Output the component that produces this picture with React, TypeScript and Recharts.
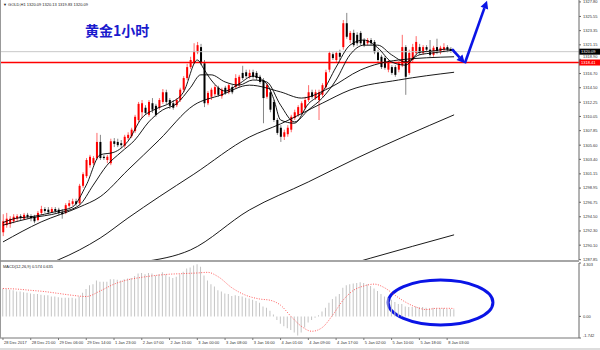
import React from 'react';
import { ComposedChart, Bar, Line, XAxis, YAxis, ReferenceLine, ReferenceArea } from 'recharts';

// hourly gold candles, index 0 = 28 Dec 2017 13:00
const opens = [
  1292.1, 1293.2, 1293.4, 1293.8, 1294.2, 1294.6, 1294.2, 1294.8, 1294.6, 1294.5,
  1294.0, 1295.1, 1295.7, 1295.6, 1295.2, 1295.7, 1295.6, 1295.2, 1295.1, 1296.2,
  1296.5, 1296.9, 1296.6, 1299.3, 1300.8, 1302.5, 1302.8, 1303.6, 1306.1, 1303.8,
  1303.3, 1302.8, 1306.2, 1306.1, 1305.9, 1305.5, 1306.7, 1307.0, 1307.8, 1309.5,
  1310.7, 1311.4, 1310.3, 1312.1, 1311.7, 1311.4, 1312.3, 1313.8, 1312.6, 1312.1,
  1311.8, 1312.6, 1314.2, 1316.0, 1317.7, 1318.5, 1320.0, 1320.8, 1318.3, 1312.1,
  1313.1, 1313.5, 1314.5, 1313.2, 1314.5, 1313.8, 1314.6, 1314.6, 1314.9, 1316.8,
  1316.9, 1316.2, 1316.9, 1316.8, 1316.2, 1315.7, 1313.1, 1313.8, 1312.3, 1309.5,
  1308.3, 1306.9, 1307.3, 1308.0, 1309.8, 1310.3, 1310.6, 1311.4, 1312.6, 1313.8,
  1312.9, 1312.6, 1313.4, 1314.6, 1317.3, 1319.7, 1318.8, 1319.9, 1320.8, 1324.5,
  1321.9, 1323.0, 1322.7, 1323.0, 1321.9, 1321.4, 1321.9, 1321.6, 1320.0, 1319.3,
  1319.1, 1317.3, 1317.7, 1317.7, 1317.3, 1318.0, 1320.8, 1316.8, 1318.8, 1319.9,
  1320.8, 1319.9, 1320.8, 1320.4, 1319.6, 1320.8, 1320.0, 1320.4, 1320.8, 1320.5,
  1320.09,
];
const closes = [
  1293.8, 1294.2, 1294.2, 1294.5, 1294.6, 1294.3, 1294.8, 1294.5, 1294.3, 1293.8,
  1295.1, 1295.7, 1295.4, 1295.2, 1295.7, 1295.4, 1295.1, 1294.9, 1296.3, 1296.6,
  1296.9, 1296.5, 1299.3, 1301.1, 1303.3, 1303.8, 1303.6, 1306.1, 1303.6, 1303.6,
  1303.8, 1306.2, 1305.8, 1305.6, 1305.6, 1306.9, 1307.2, 1308.0, 1310.0, 1312.0,
  1312.1, 1310.6, 1312.3, 1311.1, 1310.3, 1312.6, 1313.8, 1312.3, 1311.7, 1311.4,
  1312.6, 1314.2, 1316.0, 1317.7, 1318.8, 1320.2, 1321.1, 1318.3, 1312.1, 1313.7,
  1314.2, 1314.6, 1313.4, 1314.2, 1313.7, 1314.9, 1313.8, 1316.0, 1316.2, 1316.0,
  1316.3, 1316.8, 1316.2, 1316.0, 1315.4, 1312.9, 1314.9, 1311.1, 1309.5, 1307.5,
  1306.9, 1307.6, 1308.3, 1310.0, 1310.7, 1311.5, 1312.1, 1312.6, 1313.8, 1313.1,
  1313.8, 1313.8, 1314.9, 1316.9, 1319.9, 1319.1, 1319.9, 1319.3, 1324.5, 1322.4,
  1323.0, 1321.1, 1321.4, 1321.4, 1321.1, 1321.9, 1321.4, 1320.0, 1318.8, 1317.7,
  1317.6, 1318.5, 1316.8, 1316.5, 1318.3, 1320.8, 1316.2, 1319.9, 1320.8, 1321.6,
  1319.9, 1320.8, 1320.4, 1319.6, 1320.7, 1320.0, 1320.7, 1320.8, 1320.4, 1320.2,
  1320.09,
];
const highs = [
  1294.9, 1295.1, 1294.6, 1294.9, 1294.9, 1294.9, 1295.1, 1295.1, 1294.9, 1294.8,
  1295.4, 1296.2, 1296.0, 1296.0, 1296.0, 1296.0, 1295.9, 1295.7, 1296.6, 1297.1,
  1297.3, 1297.3, 1299.6, 1301.4, 1303.6, 1304.1, 1303.9, 1307.5, 1307.2, 1304.1,
  1304.1, 1306.6, 1306.7, 1306.6, 1306.4, 1307.2, 1307.6, 1308.3, 1310.3, 1312.3,
  1312.6, 1311.8, 1312.6, 1312.9, 1312.0, 1312.9, 1314.3, 1314.2, 1312.9, 1312.6,
  1312.9, 1314.5, 1316.3, 1318.2, 1319.3, 1321.4, 1321.6, 1321.3, 1318.8, 1314.0,
  1314.5, 1314.9, 1314.8, 1314.5, 1314.8, 1315.2, 1314.9, 1316.6, 1316.5, 1317.9,
  1317.3, 1317.3, 1317.3, 1317.1, 1316.5, 1316.0, 1315.2, 1314.2, 1312.6, 1309.8,
  1308.7, 1308.0, 1308.7, 1310.3, 1311.1, 1311.8, 1312.4, 1313.1, 1314.9, 1314.2,
  1314.2, 1314.2, 1315.2, 1317.3, 1320.2, 1320.0, 1320.2, 1320.4, 1325.0, 1326.1,
  1323.3, 1323.5, 1323.1, 1323.3, 1322.2, 1322.2, 1322.2, 1321.9, 1320.4, 1319.6,
  1319.4, 1318.8, 1318.0, 1318.0, 1318.6, 1322.7, 1321.1, 1320.4, 1321.3, 1322.5,
  1321.3, 1321.1, 1321.1, 1321.9, 1321.0, 1322.1, 1321.0, 1321.4, 1321.1, 1320.8,
  1320.13,
];
const lows = [
  1291.5, 1292.8, 1292.8, 1293.5, 1293.8, 1294.0, 1294.0, 1294.2, 1293.8, 1293.5,
  1293.8, 1294.8, 1295.1, 1294.9, 1295.1, 1295.1, 1294.8, 1294.2, 1294.9, 1295.9,
  1296.2, 1296.2, 1296.3, 1299.0, 1300.5, 1302.1, 1302.5, 1303.3, 1303.3, 1303.3,
  1302.8, 1302.5, 1305.3, 1305.3, 1305.2, 1305.2, 1306.4, 1306.7, 1307.5, 1309.2,
  1309.8, 1310.3, 1310.0, 1310.6, 1310.0, 1311.1, 1312.0, 1312.0, 1311.2, 1311.1,
  1311.5, 1312.3, 1313.8, 1315.7, 1317.4, 1318.2, 1319.7, 1318.0, 1311.5, 1311.8,
  1312.6, 1313.2, 1313.1, 1312.8, 1313.4, 1313.5, 1313.5, 1314.3, 1314.6, 1315.7,
  1316.0, 1315.9, 1315.9, 1315.7, 1315.1, 1309.0, 1312.8, 1310.7, 1309.2, 1307.2,
  1306.1, 1306.4, 1306.9, 1307.6, 1309.5, 1310.0, 1310.3, 1311.1, 1312.3, 1312.8,
  1312.6, 1309.5, 1313.1, 1314.3, 1316.9, 1318.8, 1318.5, 1318.8, 1320.4, 1322.1,
  1321.4, 1320.8, 1321.0, 1321.1, 1320.8, 1321.1, 1321.1, 1319.7, 1318.5, 1317.4,
  1317.3, 1316.9, 1316.5, 1316.2, 1316.9, 1317.7, 1313.4, 1316.5, 1318.5, 1319.6,
  1319.6, 1319.6, 1320.0, 1319.3, 1319.3, 1319.7, 1319.7, 1320.0, 1320.0, 1319.9,
  1319.83,
];

// moving averages: [bar index, price]
const maFast = [
  [0, 1293.6], [4, 1294.3], [8, 1294.5], [12, 1294.9], [16, 1295.4], [20, 1296.0], [24, 1299.4],
  [28, 1304.1], [32, 1304.5], [36, 1306.2], [40, 1309.8], [44, 1311.2], [48, 1312.1], [52, 1313.8],
  [56, 1318.8], [58, 1317.3], [60, 1315.7], [64, 1314.0], [68, 1315.1], [72, 1316.3], [76, 1315.1],
  [78, 1312.8], [80, 1309.5], [84, 1309.0], [88, 1312.0], [92, 1313.8], [96, 1317.7], [100, 1321.1],
  [104, 1321.9], [108, 1320.7], [112, 1318.5], [116, 1318.0], [120, 1320.0], [124, 1320.2],
  [128, 1320.5], [130, 1320.35],
];
const maMid = [
  [0, 1293.2], [8, 1294.3], [16, 1295.1], [22, 1296.3], [26, 1299.4], [30, 1302.5], [34, 1304.5],
  [38, 1306.4], [42, 1309.2], [46, 1311.05], [50, 1312.0], [54, 1314.5], [57, 1316.5], [60, 1316.5],
  [64, 1315.4], [68, 1314.9], [72, 1315.7], [76, 1315.4], [80, 1311.8], [84, 1309.2], [88, 1311.05],
  [92, 1312.9], [96, 1315.7], [100, 1319.6], [104, 1321.1], [108, 1321.1], [112, 1319.6],
  [116, 1318.5], [120, 1319.6], [124, 1319.9], [130, 1320.35],
];
const maSlow = [
  [0, 1290.6], [11, 1293.7], [22, 1296.0], [28, 1297.6], [36, 1301.75], [45, 1306.4], [55, 1311.8],
  [63, 1313.4], [71, 1314.9], [80, 1313.85], [86, 1312.9], [94, 1314.45], [103, 1317.25],
  [114, 1318.8], [130, 1319.3],
];
const ma60 = [
  [10, 1286.55], [22, 1289.35], [28, 1291.2], [36, 1294.3], [45, 1297.6], [55, 1301.1], [71, 1306.85],
  [80, 1308.9], [92, 1312.1], [100, 1314.15], [114, 1315.7], [130, 1316.9],
];
const ma120 = [[40, 1287.5], [54, 1289.35], [71, 1295.55], [88, 1299.9], [102, 1303.6], [130, 1310.3]];
const ma240 = [[96, 1286.55], [106, 1288.1], [130, 1291.7]];

const macdHist = [
  2.25, 2.2, 2.15, 2.1, 2.0, 2.0, 1.95, 1.9, 1.85, 1.8,
  1.8, 1.75, 1.7, 1.7, 1.6, 1.6, 1.55, 1.5, 1.5, 1.5,
  1.5, 1.45, 1.6, 1.9, 2.2, 2.5, 2.6, 2.9, 2.8, 2.8,
  2.8, 3.0, 3.0, 2.95, 2.9, 3.0, 3.05, 3.1, 3.25, 3.45,
  3.5, 3.4, 3.5, 3.45, 3.3, 3.4, 3.55, 3.4, 3.2, 3.1,
  3.2, 3.4, 3.6, 3.85, 3.95, 4.1, 4.2, 4.0, 3.3, 2.9,
  2.6, 2.4, 2.1, 2.0, 1.85, 1.8, 1.65, 1.7, 1.65, 1.6,
  1.5, 1.45, 1.35, 1.25, 1.1, 0.8, 0.7, 0.45, 0.15, -0.3,
  -0.6, -0.8, -0.95, -1.1, -1.3, -1.55, -1.3, -0.9, -0.5, -0.3,
  -0.1, 0.1, 0.4, 0.7, 1.1, 1.4, 1.6, 1.8, 2.3, 2.5,
  2.6, 2.65, 2.7, 2.75, 2.7, 2.6, 2.45, 2.25, 2.05, 1.8,
  1.6, 1.5, 1.35, 1.15, 1.0, 1.0, 0.8, 0.75, 0.75, 0.8,
  0.75, 0.75, 0.7, 0.65, 0.7, 0.65, 0.65, 0.65, 0.6, 0.6,
  0.574,
];
const macdSignal = [
  [0, 2.25], [4, 2.2], [8, 2.1], [12, 2.0], [16, 1.85], [20, 1.7], [24, 1.6], [28, 2.05], [32, 2.6],
  [36, 2.95], [40, 3.15], [44, 3.3], [48, 3.4], [52, 3.45], [56, 3.5], [59, 3.55], [62, 3.2],
  [66, 2.3], [70, 1.7], [74, 1.4], [77, 1.3], [80, 0.9], [83, 0.0], [86, -0.8], [89, -1.2],
  [92, -0.9], [95, 0.1], [98, 1.3], [101, 2.1], [104, 2.45], [107, 2.6], [110, 2.3], [113, 1.7],
  [116, 1.15], [119, 0.75], [122, 0.55], [125, 0.65], [128, 0.65], [130, 0.635],
];

const timeLabels = [
  '28 Dec 2017', '28 Dec 21:00', '29 Dec 06:00', '29 Dec 14:00', '1 Jan 23:00', '2 Jan 07:00',
  '2 Jan 15:00', '3 Jan 00:00', '3 Jan 08:00', '3 Jan 16:00', '4 Jan 01:00', '4 Jan 09:00',
  '4 Jan 17:00', '5 Jan 02:00', '5 Jan 10:00', '5 Jan 18:00', '8 Jan 03:00',
];
const priceTicks = [
  1327.8, 1325.55, 1323.35, 1321.15, 1318.9, 1316.7, 1314.5, 1312.25, 1310.05, 1307.85,
  1305.6, 1303.4, 1301.15, 1298.95, 1296.75, 1294.5, 1292.3, 1290.1, 1287.85,
];
const macdTicks = [4.303, 0, -1.742];

const lastPrice = 1320.09;
const resistance = 1318.41;
const arrowDown = [[129.4, 1320.5], [133.1, 1318.3]];
const arrowUp = [[133.1, 1318.3], [139.5, 1328.0]];
const circleArea = { x1: 111, x2: 141.2, y1: -0.69, y2: 2.93 };

const X_DOMAIN = [-0.86, 166];
const FONT = "'Liberation Sans', Arial, sans-serif";
const BLUE = '#0a14e6';

const candles = opens.map((o, i) => ({ i, o, c: closes[i], h: highs[i], l: lows[i], range: [lows[i], highs[i]] }));
const macdRows = macdHist.map((h, i) => ({ i, h }));
const toRows = (pairs: number[][]) => pairs.map(([i, v]) => ({ i, v }));

const Candle = (props: any) => {
  const { x, y, width, height, payload } = props;
  if (!payload) return null;
  const top = Math.min(y, y + height);
  const hh = Math.abs(height);
  const k = hh / (payload.h - payload.l || 1);
  const yO = top + (payload.h - payload.o) * k;
  const yC = top + (payload.h - payload.c) * k;
  const up = payload.c >= payload.o;
  const cx = x + width / 2;
  return (
    <g>
      <line x1={cx} x2={cx} y1={top} y2={top + hh} stroke={up ? '#ff5a5a' : '#7a7a7a'} strokeWidth={0.9} />
      <rect x={x} y={Math.min(yO, yC)} width={width} height={Math.max(1, Math.abs(yO - yC))} fill={up ? '#ff0000' : '#000'} />
    </g>
  );
};

const priceTag = (text: string, bg: string) => (props: any) => {
  const vb = props.viewBox;
  const x = vb.x + vb.width;
  return (
    <g>
      <rect x={x} y={vb.y - 3} width={21} height={6} fill={bg} />
      <text x={x + 2} y={vb.y + 1.5} fontSize={4} fill="#fff" fontFamily={FONT}>{text}</text>
    </g>
  );
};

// price scale labels; the one right above the red tag is nudged up so both stay readable
const PriceTick = (props: any) => {
  const { x, y, payload } = props;
  const v = payload.value;
  const dy = Math.abs(v - resistance) < 1 ? -1 : 1.4;
  return (
    <text x={x} y={y + dy} fontSize={4} fill="#333" fontFamily={FONT}>{v.toFixed(2)}</text>
  );
};

const Arrow = (props: any) => {
  const { x1, y1, x2, y2 } = props;
  const a = Math.atan2(y2 - y1, x2 - x1);
  const L = 8, W = 4;
  const bx = x2 - L * Math.cos(a), by = y2 - L * Math.sin(a);
  const p1 = `${bx + W * Math.sin(a)},${by - W * Math.cos(a)}`;
  const p2 = `${bx - W * Math.sin(a)},${by + W * Math.cos(a)}`;
  return (
    <g>
      <line x1={x1} y1={y1} x2={bx} y2={by} stroke={BLUE} strokeWidth={2.6} />
      <polygon points={`${x2},${y2} ${p1} ${p2}`} fill={BLUE} />
    </g>
  );
};

const Ellipse = (props: any) => {
  const { x, y, width, height } = props;
  return <ellipse cx={x + width / 2} cy={y + height / 2} rx={Math.abs(width) / 2} ry={Math.abs(height) / 2} fill="none" stroke={BLUE} strokeWidth={3} />;
};

const TimeTick = (props: any) => {
  const { x, y, payload } = props;
  return (
    <text x={x + 1} y={y + 2} fontSize={4} fill="#333" fontFamily={FONT}>
      {timeLabels[Math.round(payload.value / 8)]}
    </text>
  );
};

// MACD scale labels: the top one sits just under the panel edge, the bottom one just above
const MacdTick = (props: any) => {
  const { x, y, payload } = props;
  const v = payload.value;
  const dy = v === macdTicks[0] ? 3 : v === macdTicks[2] ? -1.5 : 1.4;
  return (
    <text x={x} y={y + dy} fontSize={4} fill="#333" fontFamily={FONT}>
      {v === 0 ? '0.00' : String(v)}
    </text>
  );
};

const maLine = (pairs: number[][], key: string) => (
  <Line key={key} data={toRows(pairs)} dataKey="v" type="monotone" stroke="#000" strokeWidth={0.9} dot={false} activeDot={false} isAnimationActive={false} />
);

export default function App() {
  return (
    <div style={{ position: 'relative', width: 600, height: 350, background: '#fff', overflow: 'hidden' }}>
      <style>{'body{margin:0}'}</style>
      <div style={{ position: 'absolute', left: 0, top: 0 }}>
        <ComposedChart width={600} height={264} data={candles} margin={{ top: 0, right: 0, bottom: 4, left: 0 }}>
          <XAxis type="number" dataKey="i" domain={X_DOMAIN} hide allowDataOverflow />
          <YAxis
            orientation="right" width={21} domain={[1287.8, 1328.1]} ticks={priceTicks} interval={0}
            allowDataOverflow tickSize={2} tick={<PriceTick />} axisLine={{ stroke: '#666' }} tickLine={{ stroke: '#666' }}
          />
          <ReferenceLine y={lastPrice} stroke="#c8c8c8" label={priceTag(lastPrice.toFixed(2), '#000')} />
          <ReferenceLine y={resistance} stroke="#ff0000" strokeWidth={1.4} label={priceTag(resistance.toFixed(2), '#ff0000')} />
          {maLine(ma240, 'ma240')}
          {maLine(ma120, 'ma120')}
          {maLine(ma60, 'ma60')}
          {maLine(maSlow, 'maSlow')}
          {maLine(maMid, 'maMid')}
          {maLine(maFast, 'maFast')}
          <Bar dataKey="range" barSize={2} shape={Candle} isAnimationActive={false} />
          <ReferenceLine segment={arrowDown.map(([x, y]) => ({ x, y }))} shape={Arrow} ifOverflow="visible" />
          <ReferenceLine segment={arrowUp.map(([x, y]) => ({ x, y }))} shape={Arrow} ifOverflow="visible" />
        </ComposedChart>
      </div>
      <div style={{ position: 'absolute', left: 0, top: 261 }}>
        <ComposedChart width={600} height={89} data={macdRows} margin={{ top: 2, right: 0, bottom: 0, left: 0 }}>
          <XAxis
            type="number" dataKey="i" domain={X_DOMAIN} allowDataOverflow ticks={timeLabels.map((_, k) => k * 8)}
            interval={0} height={12} tickSize={2} tick={<TimeTick />} axisLine={{ stroke: '#777' }} tickLine={{ stroke: '#777' }}
          />
          <YAxis
            orientation="right" width={21} domain={[-1.742, 4.303]} ticks={macdTicks} interval={0} allowDataOverflow
            tickSize={2} tick={<MacdTick />} axisLine={{ stroke: '#666' }} tickLine={{ stroke: '#666' }}
          />
          <Bar dataKey="h" barSize={1} fill="#c4c4c4" isAnimationActive={false} />
          <Line data={toRows(macdSignal)} dataKey="v" type="monotone" stroke="#ff4a4a" strokeWidth={0.9} strokeDasharray="1 1.5" dot={false} activeDot={false} isAnimationActive={false} />
          <ReferenceArea {...circleArea} shape={Ellipse} ifOverflow="visible" />
        </ComposedChart>
      </div>
      <svg width={600} height={350} style={{ position: 'absolute', left: 0, top: 0, pointerEvents: 'none' }}>
        <line x1={0.5} y1={0} x2={0.5} y2={338} stroke="#999" />
        <line x1={0} y1={261} x2={579} y2={261} stroke="#888" strokeWidth={1.5} />
        <rect x={0} y={348} width={600} height={2} fill="#ddd" />
        <text x={3} y={5.5} fontSize={4} fill="#222" fontFamily={FONT}>▼ GOLD,H1  1320.09 1320.13 1319.83 1320.09</text>
        <text x={3} y={267.5} fontSize={4} fill="#222" fontFamily={FONT}>MACD(12,26,9) 0.574 0.635</text>
        <text x={85} y={36} fontSize={14} fontWeight="bold" fill="#1a1acd" fontFamily="'Noto Sans CJK SC', sans-serif">黄金1小时</text>
      </svg>
    </div>
  );
}
